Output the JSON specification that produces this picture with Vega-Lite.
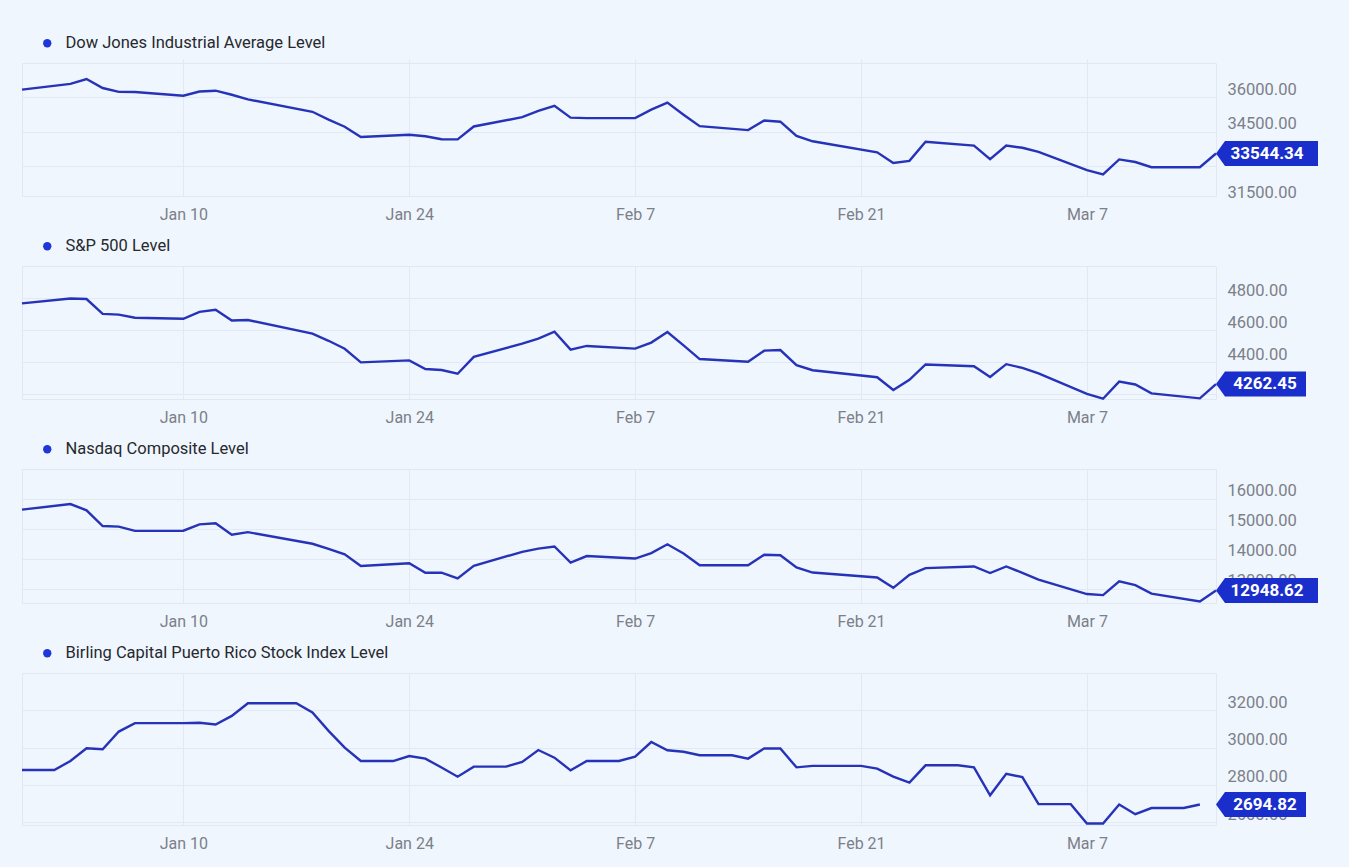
{
  "$schema": "https://vega.github.io/schema/vega-lite/v6.json",
  "background": "#f0f6fd",
  "padding": {"left": 16, "top": 34, "right": 30, "bottom": 16},
  "datasets": {
    "dow": [
      {"series": "Dow Jones Industrial Average Level", "date": "2021-12-31T00:00", "value": 36338.30},
      {"series": "Dow Jones Industrial Average Level", "date": "2022-01-03T00:00", "value": 36585.06},
      {"series": "Dow Jones Industrial Average Level", "date": "2022-01-04T00:00", "value": 36799.65},
      {"series": "Dow Jones Industrial Average Level", "date": "2022-01-05T00:00", "value": 36407.11},
      {"series": "Dow Jones Industrial Average Level", "date": "2022-01-06T00:00", "value": 36236.47},
      {"series": "Dow Jones Industrial Average Level", "date": "2022-01-07T00:00", "value": 36231.66},
      {"series": "Dow Jones Industrial Average Level", "date": "2022-01-10T00:00", "value": 36068.87},
      {"series": "Dow Jones Industrial Average Level", "date": "2022-01-11T00:00", "value": 36252.02},
      {"series": "Dow Jones Industrial Average Level", "date": "2022-01-12T00:00", "value": 36290.32},
      {"series": "Dow Jones Industrial Average Level", "date": "2022-01-13T00:00", "value": 36113.62},
      {"series": "Dow Jones Industrial Average Level", "date": "2022-01-14T00:00", "value": 35911.81},
      {"series": "Dow Jones Industrial Average Level", "date": "2022-01-18T00:00", "value": 35368.47},
      {"series": "Dow Jones Industrial Average Level", "date": "2022-01-19T00:00", "value": 35028.65},
      {"series": "Dow Jones Industrial Average Level", "date": "2022-01-20T00:00", "value": 34715.39},
      {"series": "Dow Jones Industrial Average Level", "date": "2022-01-21T00:00", "value": 34265.37},
      {"series": "Dow Jones Industrial Average Level", "date": "2022-01-24T00:00", "value": 34364.50},
      {"series": "Dow Jones Industrial Average Level", "date": "2022-01-25T00:00", "value": 34297.73},
      {"series": "Dow Jones Industrial Average Level", "date": "2022-01-26T00:00", "value": 34168.09},
      {"series": "Dow Jones Industrial Average Level", "date": "2022-01-27T00:00", "value": 34160.78},
      {"series": "Dow Jones Industrial Average Level", "date": "2022-01-28T00:00", "value": 34725.47},
      {"series": "Dow Jones Industrial Average Level", "date": "2022-01-31T00:00", "value": 35131.86},
      {"series": "Dow Jones Industrial Average Level", "date": "2022-02-01T00:00", "value": 35405.24},
      {"series": "Dow Jones Industrial Average Level", "date": "2022-02-02T00:00", "value": 35629.33},
      {"series": "Dow Jones Industrial Average Level", "date": "2022-02-03T00:00", "value": 35111.16},
      {"series": "Dow Jones Industrial Average Level", "date": "2022-02-04T00:00", "value": 35089.74},
      {"series": "Dow Jones Industrial Average Level", "date": "2022-02-07T00:00", "value": 35091.13},
      {"series": "Dow Jones Industrial Average Level", "date": "2022-02-08T00:00", "value": 35462.78},
      {"series": "Dow Jones Industrial Average Level", "date": "2022-02-09T00:00", "value": 35768.06},
      {"series": "Dow Jones Industrial Average Level", "date": "2022-02-10T00:00", "value": 35241.59},
      {"series": "Dow Jones Industrial Average Level", "date": "2022-02-11T00:00", "value": 34738.06},
      {"series": "Dow Jones Industrial Average Level", "date": "2022-02-14T00:00", "value": 34566.17},
      {"series": "Dow Jones Industrial Average Level", "date": "2022-02-15T00:00", "value": 34988.84},
      {"series": "Dow Jones Industrial Average Level", "date": "2022-02-16T00:00", "value": 34934.27},
      {"series": "Dow Jones Industrial Average Level", "date": "2022-02-17T00:00", "value": 34312.03},
      {"series": "Dow Jones Industrial Average Level", "date": "2022-02-18T00:00", "value": 34079.18},
      {"series": "Dow Jones Industrial Average Level", "date": "2022-02-22T00:00", "value": 33596.61},
      {"series": "Dow Jones Industrial Average Level", "date": "2022-02-23T00:00", "value": 33131.76},
      {"series": "Dow Jones Industrial Average Level", "date": "2022-02-24T00:00", "value": 33223.83},
      {"series": "Dow Jones Industrial Average Level", "date": "2022-02-25T00:00", "value": 34058.75},
      {"series": "Dow Jones Industrial Average Level", "date": "2022-02-28T00:00", "value": 33892.60},
      {"series": "Dow Jones Industrial Average Level", "date": "2022-03-01T00:00", "value": 33294.95},
      {"series": "Dow Jones Industrial Average Level", "date": "2022-03-02T00:00", "value": 33891.35},
      {"series": "Dow Jones Industrial Average Level", "date": "2022-03-03T00:00", "value": 33794.66},
      {"series": "Dow Jones Industrial Average Level", "date": "2022-03-04T00:00", "value": 33614.80},
      {"series": "Dow Jones Industrial Average Level", "date": "2022-03-07T00:00", "value": 32817.38},
      {"series": "Dow Jones Industrial Average Level", "date": "2022-03-08T00:00", "value": 32632.64},
      {"series": "Dow Jones Industrial Average Level", "date": "2022-03-09T00:00", "value": 33286.25},
      {"series": "Dow Jones Industrial Average Level", "date": "2022-03-10T00:00", "value": 33174.07},
      {"series": "Dow Jones Industrial Average Level", "date": "2022-03-11T00:00", "value": 32944.19},
      {"series": "Dow Jones Industrial Average Level", "date": "2022-03-14T00:00", "value": 32945.24},
      {"series": "Dow Jones Industrial Average Level", "date": "2022-03-15T00:00", "value": 33544.34}
    ],
    "spx": [
      {"series": "S&P 500 Level", "date": "2021-12-31T00:00", "value": 4766.18},
      {"series": "S&P 500 Level", "date": "2022-01-03T00:00", "value": 4796.56},
      {"series": "S&P 500 Level", "date": "2022-01-04T00:00", "value": 4793.54},
      {"series": "S&P 500 Level", "date": "2022-01-05T00:00", "value": 4700.58},
      {"series": "S&P 500 Level", "date": "2022-01-06T00:00", "value": 4696.05},
      {"series": "S&P 500 Level", "date": "2022-01-07T00:00", "value": 4677.03},
      {"series": "S&P 500 Level", "date": "2022-01-10T00:00", "value": 4670.29},
      {"series": "S&P 500 Level", "date": "2022-01-11T00:00", "value": 4713.07},
      {"series": "S&P 500 Level", "date": "2022-01-12T00:00", "value": 4726.35},
      {"series": "S&P 500 Level", "date": "2022-01-13T00:00", "value": 4659.03},
      {"series": "S&P 500 Level", "date": "2022-01-14T00:00", "value": 4662.85},
      {"series": "S&P 500 Level", "date": "2022-01-18T00:00", "value": 4577.11},
      {"series": "S&P 500 Level", "date": "2022-01-19T00:00", "value": 4532.76},
      {"series": "S&P 500 Level", "date": "2022-01-20T00:00", "value": 4482.73},
      {"series": "S&P 500 Level", "date": "2022-01-21T00:00", "value": 4397.94},
      {"series": "S&P 500 Level", "date": "2022-01-24T00:00", "value": 4410.13},
      {"series": "S&P 500 Level", "date": "2022-01-25T00:00", "value": 4356.45},
      {"series": "S&P 500 Level", "date": "2022-01-26T00:00", "value": 4349.93},
      {"series": "S&P 500 Level", "date": "2022-01-27T00:00", "value": 4326.51},
      {"series": "S&P 500 Level", "date": "2022-01-28T00:00", "value": 4431.85},
      {"series": "S&P 500 Level", "date": "2022-01-31T00:00", "value": 4515.55},
      {"series": "S&P 500 Level", "date": "2022-02-01T00:00", "value": 4546.54},
      {"series": "S&P 500 Level", "date": "2022-02-02T00:00", "value": 4589.38},
      {"series": "S&P 500 Level", "date": "2022-02-03T00:00", "value": 4477.44},
      {"series": "S&P 500 Level", "date": "2022-02-04T00:00", "value": 4500.53},
      {"series": "S&P 500 Level", "date": "2022-02-07T00:00", "value": 4483.87},
      {"series": "S&P 500 Level", "date": "2022-02-08T00:00", "value": 4521.54},
      {"series": "S&P 500 Level", "date": "2022-02-09T00:00", "value": 4587.18},
      {"series": "S&P 500 Level", "date": "2022-02-10T00:00", "value": 4504.08},
      {"series": "S&P 500 Level", "date": "2022-02-11T00:00", "value": 4418.64},
      {"series": "S&P 500 Level", "date": "2022-02-14T00:00", "value": 4401.67},
      {"series": "S&P 500 Level", "date": "2022-02-15T00:00", "value": 4471.07},
      {"series": "S&P 500 Level", "date": "2022-02-16T00:00", "value": 4475.01},
      {"series": "S&P 500 Level", "date": "2022-02-17T00:00", "value": 4380.26},
      {"series": "S&P 500 Level", "date": "2022-02-18T00:00", "value": 4348.87},
      {"series": "S&P 500 Level", "date": "2022-02-22T00:00", "value": 4304.76},
      {"series": "S&P 500 Level", "date": "2022-02-23T00:00", "value": 4225.50},
      {"series": "S&P 500 Level", "date": "2022-02-24T00:00", "value": 4288.70},
      {"series": "S&P 500 Level", "date": "2022-02-25T00:00", "value": 4384.65},
      {"series": "S&P 500 Level", "date": "2022-02-28T00:00", "value": 4373.94},
      {"series": "S&P 500 Level", "date": "2022-03-01T00:00", "value": 4306.26},
      {"series": "S&P 500 Level", "date": "2022-03-02T00:00", "value": 4386.54},
      {"series": "S&P 500 Level", "date": "2022-03-03T00:00", "value": 4363.49},
      {"series": "S&P 500 Level", "date": "2022-03-04T00:00", "value": 4328.87},
      {"series": "S&P 500 Level", "date": "2022-03-07T00:00", "value": 4201.09},
      {"series": "S&P 500 Level", "date": "2022-03-08T00:00", "value": 4170.70},
      {"series": "S&P 500 Level", "date": "2022-03-09T00:00", "value": 4277.88},
      {"series": "S&P 500 Level", "date": "2022-03-10T00:00", "value": 4259.52},
      {"series": "S&P 500 Level", "date": "2022-03-11T00:00", "value": 4204.31},
      {"series": "S&P 500 Level", "date": "2022-03-14T00:00", "value": 4173.11},
      {"series": "S&P 500 Level", "date": "2022-03-15T00:00", "value": 4262.45}
    ],
    "ndq": [
      {"series": "Nasdaq Composite Level", "date": "2021-12-31T00:00", "value": 15644.97},
      {"series": "Nasdaq Composite Level", "date": "2022-01-03T00:00", "value": 15832.80},
      {"series": "Nasdaq Composite Level", "date": "2022-01-04T00:00", "value": 15622.72},
      {"series": "Nasdaq Composite Level", "date": "2022-01-05T00:00", "value": 15100.17},
      {"series": "Nasdaq Composite Level", "date": "2022-01-06T00:00", "value": 15080.86},
      {"series": "Nasdaq Composite Level", "date": "2022-01-07T00:00", "value": 14935.90},
      {"series": "Nasdaq Composite Level", "date": "2022-01-10T00:00", "value": 14942.83},
      {"series": "Nasdaq Composite Level", "date": "2022-01-11T00:00", "value": 15153.45},
      {"series": "Nasdaq Composite Level", "date": "2022-01-12T00:00", "value": 15188.39},
      {"series": "Nasdaq Composite Level", "date": "2022-01-13T00:00", "value": 14806.81},
      {"series": "Nasdaq Composite Level", "date": "2022-01-14T00:00", "value": 14893.75},
      {"series": "Nasdaq Composite Level", "date": "2022-01-18T00:00", "value": 14506.90},
      {"series": "Nasdaq Composite Level", "date": "2022-01-19T00:00", "value": 14340.26},
      {"series": "Nasdaq Composite Level", "date": "2022-01-20T00:00", "value": 14154.02},
      {"series": "Nasdaq Composite Level", "date": "2022-01-21T00:00", "value": 13768.92},
      {"series": "Nasdaq Composite Level", "date": "2022-01-24T00:00", "value": 13855.13},
      {"series": "Nasdaq Composite Level", "date": "2022-01-25T00:00", "value": 13539.29},
      {"series": "Nasdaq Composite Level", "date": "2022-01-26T00:00", "value": 13542.12},
      {"series": "Nasdaq Composite Level", "date": "2022-01-27T00:00", "value": 13352.78},
      {"series": "Nasdaq Composite Level", "date": "2022-01-28T00:00", "value": 13770.57},
      {"series": "Nasdaq Composite Level", "date": "2022-01-31T00:00", "value": 14239.88},
      {"series": "Nasdaq Composite Level", "date": "2022-02-01T00:00", "value": 14346.00},
      {"series": "Nasdaq Composite Level", "date": "2022-02-02T00:00", "value": 14417.55},
      {"series": "Nasdaq Composite Level", "date": "2022-02-03T00:00", "value": 13878.82},
      {"series": "Nasdaq Composite Level", "date": "2022-02-04T00:00", "value": 14098.01},
      {"series": "Nasdaq Composite Level", "date": "2022-02-07T00:00", "value": 14015.67},
      {"series": "Nasdaq Composite Level", "date": "2022-02-08T00:00", "value": 14194.46},
      {"series": "Nasdaq Composite Level", "date": "2022-02-09T00:00", "value": 14490.37},
      {"series": "Nasdaq Composite Level", "date": "2022-02-10T00:00", "value": 14185.64},
      {"series": "Nasdaq Composite Level", "date": "2022-02-11T00:00", "value": 13791.15},
      {"series": "Nasdaq Composite Level", "date": "2022-02-14T00:00", "value": 13790.92},
      {"series": "Nasdaq Composite Level", "date": "2022-02-15T00:00", "value": 14139.76},
      {"series": "Nasdaq Composite Level", "date": "2022-02-16T00:00", "value": 14124.09},
      {"series": "Nasdaq Composite Level", "date": "2022-02-17T00:00", "value": 13716.72},
      {"series": "Nasdaq Composite Level", "date": "2022-02-18T00:00", "value": 13548.07},
      {"series": "Nasdaq Composite Level", "date": "2022-02-22T00:00", "value": 13381.52},
      {"series": "Nasdaq Composite Level", "date": "2022-02-23T00:00", "value": 13037.49},
      {"series": "Nasdaq Composite Level", "date": "2022-02-24T00:00", "value": 13473.59},
      {"series": "Nasdaq Composite Level", "date": "2022-02-25T00:00", "value": 13694.62},
      {"series": "Nasdaq Composite Level", "date": "2022-02-28T00:00", "value": 13751.40},
      {"series": "Nasdaq Composite Level", "date": "2022-03-01T00:00", "value": 13532.46},
      {"series": "Nasdaq Composite Level", "date": "2022-03-02T00:00", "value": 13752.02},
      {"series": "Nasdaq Composite Level", "date": "2022-03-03T00:00", "value": 13537.94},
      {"series": "Nasdaq Composite Level", "date": "2022-03-04T00:00", "value": 13313.44},
      {"series": "Nasdaq Composite Level", "date": "2022-03-07T00:00", "value": 12830.96},
      {"series": "Nasdaq Composite Level", "date": "2022-03-08T00:00", "value": 12795.55},
      {"series": "Nasdaq Composite Level", "date": "2022-03-09T00:00", "value": 13255.55},
      {"series": "Nasdaq Composite Level", "date": "2022-03-10T00:00", "value": 13129.96},
      {"series": "Nasdaq Composite Level", "date": "2022-03-11T00:00", "value": 12843.81},
      {"series": "Nasdaq Composite Level", "date": "2022-03-14T00:00", "value": 12581.22},
      {"series": "Nasdaq Composite Level", "date": "2022-03-15T00:00", "value": 12948.62}
    ],
    "brl": [
      {"series": "Birling Capital Puerto Rico Stock Index Level", "date": "2021-12-31T00:00", "value": 2880},
      {"series": "Birling Capital Puerto Rico Stock Index Level", "date": "2022-01-02T00:00", "value": 2880},
      {"series": "Birling Capital Puerto Rico Stock Index Level", "date": "2022-01-03T00:00", "value": 2928},
      {"series": "Birling Capital Puerto Rico Stock Index Level", "date": "2022-01-04T00:00", "value": 2996},
      {"series": "Birling Capital Puerto Rico Stock Index Level", "date": "2022-01-05T00:00", "value": 2991},
      {"series": "Birling Capital Puerto Rico Stock Index Level", "date": "2022-01-06T00:00", "value": 3086},
      {"series": "Birling Capital Puerto Rico Stock Index Level", "date": "2022-01-07T00:00", "value": 3131},
      {"series": "Birling Capital Puerto Rico Stock Index Level", "date": "2022-01-10T00:00", "value": 3131},
      {"series": "Birling Capital Puerto Rico Stock Index Level", "date": "2022-01-11T00:00", "value": 3133},
      {"series": "Birling Capital Puerto Rico Stock Index Level", "date": "2022-01-12T00:00", "value": 3124},
      {"series": "Birling Capital Puerto Rico Stock Index Level", "date": "2022-01-13T00:00", "value": 3170},
      {"series": "Birling Capital Puerto Rico Stock Index Level", "date": "2022-01-14T00:00", "value": 3238},
      {"series": "Birling Capital Puerto Rico Stock Index Level", "date": "2022-01-17T00:00", "value": 3238},
      {"series": "Birling Capital Puerto Rico Stock Index Level", "date": "2022-01-18T00:00", "value": 3188},
      {"series": "Birling Capital Puerto Rico Stock Index Level", "date": "2022-01-19T00:00", "value": 3090},
      {"series": "Birling Capital Puerto Rico Stock Index Level", "date": "2022-01-20T00:00", "value": 3000},
      {"series": "Birling Capital Puerto Rico Stock Index Level", "date": "2022-01-21T00:00", "value": 2928},
      {"series": "Birling Capital Puerto Rico Stock Index Level", "date": "2022-01-23T00:00", "value": 2928},
      {"series": "Birling Capital Puerto Rico Stock Index Level", "date": "2022-01-24T00:00", "value": 2955},
      {"series": "Birling Capital Puerto Rico Stock Index Level", "date": "2022-01-25T00:00", "value": 2941},
      {"series": "Birling Capital Puerto Rico Stock Index Level", "date": "2022-01-26T00:00", "value": 2893},
      {"series": "Birling Capital Puerto Rico Stock Index Level", "date": "2022-01-27T00:00", "value": 2844},
      {"series": "Birling Capital Puerto Rico Stock Index Level", "date": "2022-01-28T00:00", "value": 2898},
      {"series": "Birling Capital Puerto Rico Stock Index Level", "date": "2022-01-30T00:00", "value": 2898},
      {"series": "Birling Capital Puerto Rico Stock Index Level", "date": "2022-01-31T00:00", "value": 2923},
      {"series": "Birling Capital Puerto Rico Stock Index Level", "date": "2022-02-01T00:00", "value": 2987},
      {"series": "Birling Capital Puerto Rico Stock Index Level", "date": "2022-02-02T00:00", "value": 2946},
      {"series": "Birling Capital Puerto Rico Stock Index Level", "date": "2022-02-03T00:00", "value": 2878},
      {"series": "Birling Capital Puerto Rico Stock Index Level", "date": "2022-02-04T00:00", "value": 2928},
      {"series": "Birling Capital Puerto Rico Stock Index Level", "date": "2022-02-06T00:00", "value": 2928},
      {"series": "Birling Capital Puerto Rico Stock Index Level", "date": "2022-02-07T00:00", "value": 2952},
      {"series": "Birling Capital Puerto Rico Stock Index Level", "date": "2022-02-08T00:00", "value": 3030},
      {"series": "Birling Capital Puerto Rico Stock Index Level", "date": "2022-02-09T00:00", "value": 2986},
      {"series": "Birling Capital Puerto Rico Stock Index Level", "date": "2022-02-10T00:00", "value": 2978},
      {"series": "Birling Capital Puerto Rico Stock Index Level", "date": "2022-02-11T00:00", "value": 2959},
      {"series": "Birling Capital Puerto Rico Stock Index Level", "date": "2022-02-13T00:00", "value": 2959},
      {"series": "Birling Capital Puerto Rico Stock Index Level", "date": "2022-02-14T00:00", "value": 2941},
      {"series": "Birling Capital Puerto Rico Stock Index Level", "date": "2022-02-15T00:00", "value": 2996},
      {"series": "Birling Capital Puerto Rico Stock Index Level", "date": "2022-02-16T00:00", "value": 2995},
      {"series": "Birling Capital Puerto Rico Stock Index Level", "date": "2022-02-17T00:00", "value": 2894},
      {"series": "Birling Capital Puerto Rico Stock Index Level", "date": "2022-02-18T00:00", "value": 2902},
      {"series": "Birling Capital Puerto Rico Stock Index Level", "date": "2022-02-21T00:00", "value": 2902},
      {"series": "Birling Capital Puerto Rico Stock Index Level", "date": "2022-02-22T00:00", "value": 2887},
      {"series": "Birling Capital Puerto Rico Stock Index Level", "date": "2022-02-23T00:00", "value": 2844},
      {"series": "Birling Capital Puerto Rico Stock Index Level", "date": "2022-02-24T00:00", "value": 2812},
      {"series": "Birling Capital Puerto Rico Stock Index Level", "date": "2022-02-25T00:00", "value": 2905},
      {"series": "Birling Capital Puerto Rico Stock Index Level", "date": "2022-02-27T00:00", "value": 2905},
      {"series": "Birling Capital Puerto Rico Stock Index Level", "date": "2022-02-28T00:00", "value": 2894},
      {"series": "Birling Capital Puerto Rico Stock Index Level", "date": "2022-03-01T00:00", "value": 2744},
      {"series": "Birling Capital Puerto Rico Stock Index Level", "date": "2022-03-02T00:00", "value": 2859},
      {"series": "Birling Capital Puerto Rico Stock Index Level", "date": "2022-03-03T00:00", "value": 2842},
      {"series": "Birling Capital Puerto Rico Stock Index Level", "date": "2022-03-04T00:00", "value": 2697},
      {"series": "Birling Capital Puerto Rico Stock Index Level", "date": "2022-03-06T00:00", "value": 2697},
      {"series": "Birling Capital Puerto Rico Stock Index Level", "date": "2022-03-07T00:00", "value": 2593},
      {"series": "Birling Capital Puerto Rico Stock Index Level", "date": "2022-03-08T00:00", "value": 2593},
      {"series": "Birling Capital Puerto Rico Stock Index Level", "date": "2022-03-09T00:00", "value": 2695},
      {"series": "Birling Capital Puerto Rico Stock Index Level", "date": "2022-03-10T00:00", "value": 2643},
      {"series": "Birling Capital Puerto Rico Stock Index Level", "date": "2022-03-11T00:00", "value": 2676},
      {"series": "Birling Capital Puerto Rico Stock Index Level", "date": "2022-03-13T00:00", "value": 2676},
      {"series": "Birling Capital Puerto Rico Stock Index Level", "date": "2022-03-14T00:00", "value": 2694.82}
    ],
    "last": [
      {"series": "Dow Jones Industrial Average Level", "value": 33544.34},
      {"series": "S&P 500 Level", "value": 4262.45},
      {"series": "Nasdaq Composite Level", "value": 12948.62},
      {"series": "Birling Capital Puerto Rico Stock Index Level", "value": 2694.82}
    ]
  },
  "config": {
    "font": "Roboto",
    "view": {"stroke": "#e1e8f2", "strokeWidth": 1},
    "axis": {
      "labelFont": "Roboto",
      "labelFontSize": 16,
      "labelColor": "#7b8089",
      "gridColor": "#e3e9f3",
      "gridWidth": 1,
      "domain": false,
      "ticks": false,
      "tickSize": 0,
      "title": null
    },
    "axisY": {"minExtent": 0, "labelFontSize": 16.5},
    "legend": {
      "orient": "none",
      "legendX": 17,
      "legendY": -28,
      "title": null,
      "symbolType": "circle",
      "symbolSize": 70,
      "labelFont": "Roboto",
      "labelFontSize": 16.5,
      "labelColor": "#26292e",
      "labelOffset": 10,
      "labelLimit": 800
    }
  },
  "bounds": "flush",
  "spacing": 70,
  "resolve": {"scale": {"y": "independent", "color": "independent"}, "legend": {"color": "independent"}},
  "vconcat": [
    {
      "width": 1194,
      "height": 133,
      "layer": [
        {
          "data": {"name": "dow"},
          "mark": {"type": "line", "strokeWidth": 2.4},
          "encoding": {
            "x": {"field": "date", "type": "temporal",
              "scale": {"domain": [{"year": 2021, "month": 12, "date": 31}, {"year": 2022, "month": 3, "date": 15}], "nice": false},
              "axis": {"values": [{"year": 2022, "month": 1, "date": 10}, {"year": 2022, "month": 1, "date": 24}, {"year": 2022, "month": 2, "date": 7}, {"year": 2022, "month": 2, "date": 21}, {"year": 2022, "month": 3, "date": 7}], "format": "%b %-d", "labelPadding": 10, "grid": true}},
            "y": {"field": "value", "type": "quantitative",
              "scale": {"domain": [31500, 37500], "range": [137.3, 0], "nice": false, "zero": false},
              "axis": {"orient": "right", "values": [31500, 33000, 34500, 36000], "format": ".2f", "labelPadding": 11, "labelBaseline": "bottom", "grid": true,
                "gridColor": {"condition": {"test": "datum.value < 31688", "value": "transparent"}, "value": "#e3e9f3"}}},
            "color": {"field": "series", "type": "nominal", "scale": {"range": ["#2633b8"]},
              "legend": {"encode": {"symbols": {"update": {"fill": {"value": "#1f36d8"}, "stroke": {"value": "transparent"}, "strokeWidth": {"value": 0}}}}}}
          }
        },
        {
          "data": {"name": "last"},
          "transform": [{"filter": "datum.series === 'Dow Jones Industrial Average Level'"}],
          "mark": {"type": "point", "shape": "M0,0L0.18,-0.25L2.04,-0.25L2.04,0.25L0.18,0.25Z", "size": 10000, "filled": true, "fill": "#1a2ecb", "opacity": 1, "strokeWidth": 0},
          "encoding": {"x": {"value": "width"}, "y": {"field": "value", "type": "quantitative"}}
        },
        {
          "data": {"name": "last"},
          "transform": [{"filter": "datum.series === 'Dow Jones Industrial Average Level'"}],
          "mark": {"type": "text", "dx": 51, "align": "center", "baseline": "middle", "font": "Roboto", "fontWeight": "bold", "fontSize": 17, "fill": "#ffffff"},
          "encoding": {"x": {"value": "width"}, "y": {"field": "value", "type": "quantitative"}, "text": {"field": "value", "type": "quantitative", "format": ".2f"}}
        }
      ]
    },
    {
      "width": 1194,
      "height": 133,
      "layer": [
        {
          "data": {"name": "spx"},
          "mark": {"type": "line", "strokeWidth": 2.4},
          "encoding": {
            "x": {"field": "date", "type": "temporal",
              "scale": {"domain": [{"year": 2021, "month": 12, "date": 31}, {"year": 2022, "month": 3, "date": 15}], "nice": false},
              "axis": {"values": [{"year": 2022, "month": 1, "date": 10}, {"year": 2022, "month": 1, "date": 24}, {"year": 2022, "month": 2, "date": 7}, {"year": 2022, "month": 2, "date": 21}, {"year": 2022, "month": 3, "date": 7}], "format": "%b %-d", "labelPadding": 10, "grid": true}},
            "y": {"field": "value", "type": "quantitative",
              "scale": {"domain": [4169, 5000], "nice": false, "zero": false},
              "axis": {"orient": "right", "values": [4200, 4400, 4600, 4800], "format": ".2f", "labelPadding": 11, "labelBaseline": "bottom", "grid": true}},
            "color": {"field": "series", "type": "nominal", "scale": {"range": ["#2633b8"]},
              "legend": {"encode": {"symbols": {"update": {"fill": {"value": "#1f36d8"}, "stroke": {"value": "transparent"}, "strokeWidth": {"value": 0}}}}}}
          }
        },
        {
          "data": {"name": "last"},
          "transform": [{"filter": "datum.series === 'S&P 500 Level'"}],
          "mark": {"type": "point", "shape": "M0,0L0.18,-0.25L1.80,-0.25L1.80,0.25L0.18,0.25Z", "size": 10000, "filled": true, "fill": "#1a2ecb", "opacity": 1, "strokeWidth": 0},
          "encoding": {"x": {"value": "width"}, "y": {"field": "value", "type": "quantitative"}}
        },
        {
          "data": {"name": "last"},
          "transform": [{"filter": "datum.series === 'S&P 500 Level'"}],
          "mark": {"type": "text", "dx": 49, "align": "center", "baseline": "middle", "font": "Roboto", "fontWeight": "bold", "fontSize": 17, "fill": "#ffffff"},
          "encoding": {"x": {"value": "width"}, "y": {"field": "value", "type": "quantitative"}, "text": {"field": "value", "type": "quantitative", "format": ".2f"}}
        }
      ]
    },
    {
      "width": 1194,
      "height": 134,
      "layer": [
        {
          "data": {"name": "ndq"},
          "mark": {"type": "line", "strokeWidth": 2.4},
          "encoding": {
            "x": {"field": "date", "type": "temporal",
              "scale": {"domain": [{"year": 2021, "month": 12, "date": 31}, {"year": 2022, "month": 3, "date": 15}], "nice": false},
              "axis": {"values": [{"year": 2022, "month": 1, "date": 10}, {"year": 2022, "month": 1, "date": 24}, {"year": 2022, "month": 2, "date": 7}, {"year": 2022, "month": 2, "date": 21}, {"year": 2022, "month": 3, "date": 7}], "format": "%b %-d", "labelPadding": 10, "grid": true}},
            "y": {"field": "value", "type": "quantitative",
              "scale": {"domain": [12533, 17000], "nice": false, "zero": false},
              "axis": {"orient": "right", "values": [13000, 14000, 15000, 16000], "format": ".2f", "labelPadding": 11, "labelBaseline": "bottom", "grid": true}},
            "color": {"field": "series", "type": "nominal", "scale": {"range": ["#2633b8"]},
              "legend": {"encode": {"symbols": {"update": {"fill": {"value": "#1f36d8"}, "stroke": {"value": "transparent"}, "strokeWidth": {"value": 0}}}}}}
          }
        },
        {
          "data": {"name": "last"},
          "transform": [{"filter": "datum.series === 'Nasdaq Composite Level'"}],
          "mark": {"type": "point", "shape": "M0,0L0.18,-0.25L2.04,-0.25L2.04,0.25L0.18,0.25Z", "size": 10000, "filled": true, "fill": "#1a2ecb", "opacity": 1, "strokeWidth": 0},
          "encoding": {"x": {"value": "width"}, "y": {"field": "value", "type": "quantitative"}}
        },
        {
          "data": {"name": "last"},
          "transform": [{"filter": "datum.series === 'Nasdaq Composite Level'"}],
          "mark": {"type": "text", "dx": 51, "align": "center", "baseline": "middle", "font": "Roboto", "fontWeight": "bold", "fontSize": 17, "fill": "#ffffff"},
          "encoding": {"x": {"value": "width"}, "y": {"field": "value", "type": "quantitative"}, "text": {"field": "value", "type": "quantitative", "format": ".2f"}}
        }
      ]
    },
    {
      "width": 1194,
      "height": 152,
      "layer": [
        {
          "data": {"name": "brl"},
          "mark": {"type": "line", "strokeWidth": 2.4},
          "encoding": {
            "x": {"field": "date", "type": "temporal",
              "scale": {"domain": [{"year": 2021, "month": 12, "date": 31}, {"year": 2022, "month": 3, "date": 15}], "nice": false},
              "axis": {"values": [{"year": 2022, "month": 1, "date": 10}, {"year": 2022, "month": 1, "date": 24}, {"year": 2022, "month": 2, "date": 7}, {"year": 2022, "month": 2, "date": 21}, {"year": 2022, "month": 3, "date": 7}], "format": "%b %-d", "labelPadding": 10, "grid": true}},
            "y": {"field": "value", "type": "quantitative",
              "scale": {"domain": [2585, 3400], "nice": false, "zero": false},
              "axis": {"orient": "right", "values": [2600, 2800, 3000, 3200], "format": ".2f", "labelPadding": 11, "labelBaseline": "bottom", "grid": true}},
            "color": {"field": "series", "type": "nominal", "scale": {"range": ["#2633b8"]},
              "legend": {"encode": {"symbols": {"update": {"fill": {"value": "#1f36d8"}, "stroke": {"value": "transparent"}, "strokeWidth": {"value": 0}}}}}}
          }
        },
        {
          "data": {"name": "last"},
          "transform": [{"filter": "datum.series === 'Birling Capital Puerto Rico Stock Index Level'"}],
          "mark": {"type": "point", "shape": "M0,0L0.18,-0.25L1.80,-0.25L1.80,0.25L0.18,0.25Z", "size": 10000, "filled": true, "fill": "#1a2ecb", "opacity": 1, "strokeWidth": 0},
          "encoding": {"x": {"value": "width"}, "y": {"field": "value", "type": "quantitative"}}
        },
        {
          "data": {"name": "last"},
          "transform": [{"filter": "datum.series === 'Birling Capital Puerto Rico Stock Index Level'"}],
          "mark": {"type": "text", "dx": 49, "align": "center", "baseline": "middle", "font": "Roboto", "fontWeight": "bold", "fontSize": 17, "fill": "#ffffff"},
          "encoding": {"x": {"value": "width"}, "y": {"field": "value", "type": "quantitative"}, "text": {"field": "value", "type": "quantitative", "format": ".2f"}}
        }
      ]
    }
  ]
}
